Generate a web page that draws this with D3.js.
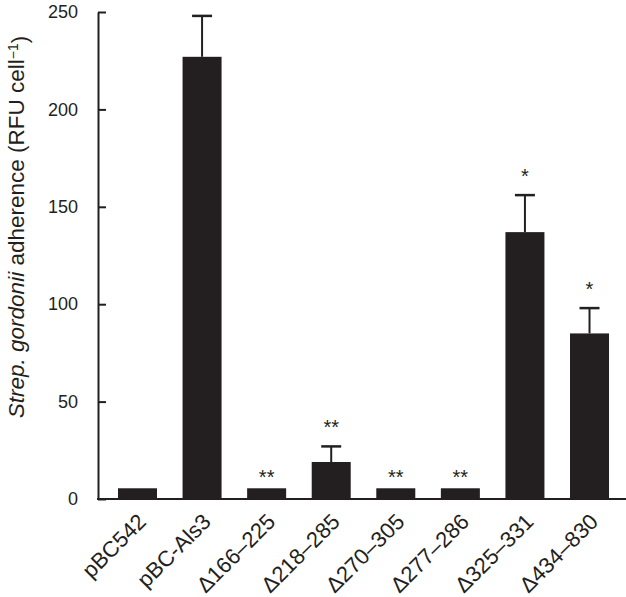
<!DOCTYPE html>
<html>
<head>
<meta charset="utf-8">
<script src="https://cdn.jsdelivr.net/npm/d3@7"></script>
<style>
  body { margin: 0; background: #fff; }
  svg { display: block; font-family: "Liberation Sans", Arial, sans-serif; }
</style>
</head>
<body>
<div id="chart"></div>
<script>
const categories = ['pBC542', 'pBC-Als3', 'Δ166–225', 'Δ218–285', 'Δ270–305', 'Δ277–286', 'Δ325–331', 'Δ434–830'];
const values = [5.5, 227, 5.5, 19, 5.5, 5.5, 137, 85];
const errors = [0, 21, 0, 8, 0, 0, 19, 13];
const stars = ['', '', '**', '**', '**', '**', '*', '*'];
const yTicks = [0, 50, 100, 150, 200, 250];

const W = 626, H = 597;
const ink = '#231f20';

const svg = d3.select('#chart').append('svg')
  .attr('width', W)
  .attr('height', H);

const x = d3.scaleBand()
  .domain(categories)
  .range([99, 628])
  .paddingInner(0.396)
  .paddingOuter(0.294);

const y = d3.scaleLinear()
  .domain([0, 250])
  .range([499, 12]);

// y axis, ticks pointing inward
const yAxis = svg.append('g')
  .attr('transform', 'translate(98,0)')
  .call(d3.axisLeft(y).tickValues(yTicks).tickSizeInner(-8).tickSizeOuter(0).tickPadding(20));
yAxis.select('.domain').attr('stroke', ink).attr('stroke-width', 2);
yAxis.selectAll('.tick line').attr('stroke', ink).attr('stroke-width', 2);
yAxis.selectAll('.tick text')
  .attr('fill', ink)
  .style('font-size', '18px')
  .style('font-family', '"Liberation Sans", Arial, sans-serif');

// bars
svg.selectAll('rect.bar')
  .data(categories)
  .join('rect')
  .attr('class', 'bar')
  .attr('x', d => x(d))
  .attr('width', x.bandwidth())
  .attr('y', (d, i) => y(values[i]))
  .attr('height', (d, i) => y(0) - y(values[i]))
  .attr('fill', ink);

// error bars (upper only)
const eb = svg.selectAll('g.err')
  .data(categories.filter((d, i) => errors[i] > 0))
  .join('g')
  .attr('class', 'err');
eb.append('line')
  .attr('x1', d => x(d) + x.bandwidth() / 2)
  .attr('x2', d => x(d) + x.bandwidth() / 2)
  .attr('y1', d => y(values[categories.indexOf(d)]))
  .attr('y2', d => { const i = categories.indexOf(d); return y(values[i] + errors[i]); })
  .attr('stroke', ink).attr('stroke-width', 2);
eb.append('line')
  .attr('x1', d => x(d) + x.bandwidth() / 2 - 10)
  .attr('x2', d => x(d) + x.bandwidth() / 2 + 10)
  .attr('y1', d => { const i = categories.indexOf(d); return y(values[i] + errors[i]); })
  .attr('y2', d => { const i = categories.indexOf(d); return y(values[i] + errors[i]); })
  .attr('stroke', ink).attr('stroke-width', 2.5);

// significance stars
svg.selectAll('text.star')
  .data(categories)
  .join('text')
  .attr('class', 'star')
  .attr('x', d => x(d) + x.bandwidth() / 2)
  .attr('y', (d, i) => y(values[i] + errors[i]) - (errors[i] > 0 ? 12 : 4))
  .attr('text-anchor', 'middle')
  .attr('fill', ink)
  .style('font-size', '20px')
  .text((d, i) => stars[i]);

// baseline
svg.append('line')
  .attr('x1', 97).attr('x2', W)
  .attr('y1', y(0)).attr('y2', y(0))
  .attr('stroke', ink).attr('stroke-width', 2);

// x labels, rotated
svg.selectAll('text.xlab')
  .data(categories)
  .join('text')
  .attr('class', 'xlab')
  .attr('transform', d => `translate(${x(d) + x.bandwidth() / 2 + 10},${y(0) + 24}) rotate(-45)`)
  .attr('text-anchor', 'end')
  .attr('fill', ink)
  .style('font-size', '22px')
  .text(d => d);

// y title
const title = svg.append('text')
  .attr('transform', 'translate(24,227) rotate(-90)')
  .attr('text-anchor', 'middle')
  .attr('fill', ink)
  .style('font-size', '22.5px');
title.append('tspan').style('font-style', 'italic').text('Strep. gordonii');
title.append('tspan').text(' adherence (RFU cell');
title.append('tspan').attr('dy', '-0.4em').style('font-size', '14px').text('−1');
title.append('tspan').attr('dy', '0.4em').text(')');
</script>
</body>
</html>
